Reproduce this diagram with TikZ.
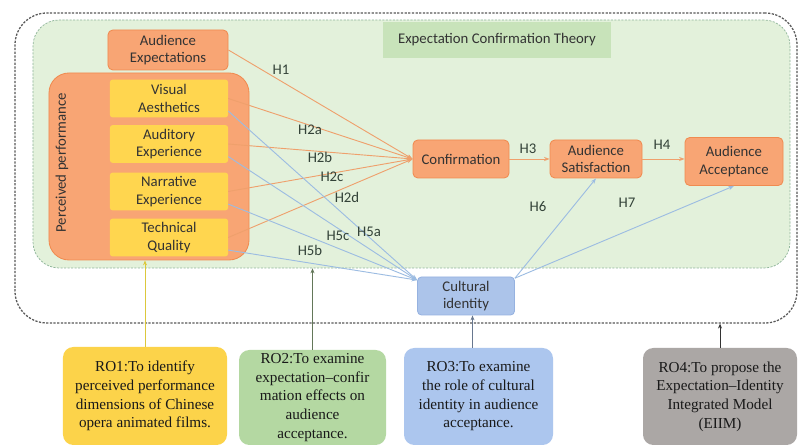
\documentclass[tikz,border=0pt]{standalone}
\usepackage{fontspec}
\setmainfont{Liberation Serif}
\newfontfamily\labelfont{Carlito}
\usetikzlibrary{arrows.meta}

\definecolor{orfill}{HTML}{F8A574}
\definecolor{orline}{HTML}{F08B50}
\definecolor{yel}{HTML}{FFD64F}
\definecolor{ectfill}{HTML}{E3F1DB}
\definecolor{ectline}{HTML}{8FB59A}
\definecolor{ecttag}{HTML}{C8E3BA}
\definecolor{cultfill}{HTML}{ACC4EA}
\definecolor{cultline}{HTML}{96B2E0}
\definecolor{orwire}{HTML}{EFA06C}
\definecolor{bluewire}{HTML}{9CBCE2}
\definecolor{roone}{HTML}{FCD34A}
\definecolor{rotwo}{HTML}{B4D8A2}
\definecolor{rothree}{HTML}{ACC6EE}
\definecolor{rofour}{HTML}{ABA7A5}
\definecolor{hyptext}{HTML}{334238}
\definecolor{roonelink}{HTML}{DCC83C}

\tikzset{
  base/.style={font=\labelfont\fontsize{10.5}{12.5}\selectfont, align=center,
    inner sep=0pt, text=black!80},
  orbox/.style={base, draw=orline, fill=orfill, line width=0.6pt, rounded corners=1.2mm},
  yelbox/.style={base, fill=yel, rounded corners=0.6mm,
    minimum width=29.5mm, minimum height=9.4mm},
  hyp/.style={font=\labelfont\fontsize{10.5}{12}\selectfont, text=hyptext, inner sep=0pt},
  robox/.style={align=center, inner sep=0pt, rounded corners=2.6mm,
    font=\fontsize{10.8}{13.3}\selectfont, text=black!90},
  orwirestyle/.style={draw=orwire, line width=0.65pt, -{Stealth[length=4pt,width=3pt]}},
  bluewirestyle/.style={draw=bluewire, line width=0.65pt, -{Stealth[length=4pt,width=3pt]}},
  uplink/.style={line width=0.7pt, -{Stealth[length=3.5pt,width=2.8pt]}}
}

\begin{document}
\begin{tikzpicture}[x=0.25mm, y=-0.25mm]
\useasboundingbox (0,0) rectangle (800,448);
\fill[white] (0,0) rectangle (800,448);

% outer frame of the model
\node[draw=black!65, line width=0.9pt, dash pattern=on 1.6pt off 1pt,
      rounded corners=8mm, minimum width=195.5mm, minimum height=77.5mm,
      inner sep=0pt] (frame) at (406,168) {};

% Expectation Confirmation Theory region
\node[draw=ectline, fill=ectfill, line width=0.5pt, dash pattern=on 1.5pt off 1pt,
      rounded corners=6.5mm, minimum width=189.25mm, minimum height=62mm,
      inner sep=0pt] (ect) at (411.5,144) {};
\node[base, fill=ecttag, minimum width=57mm, minimum height=9mm] (ecttitle)
      at (497,40) {Expectation Confirmation Theory};

% antecedents
\node[orbox, minimum width=30mm, minimum height=10mm] (aexp) at (168,50)
      {Audience\\Expectations};
\node[orbox, minimum width=50mm, minimum height=46.75mm, rounded corners=5mm] (perf)
      at (149,166.5) {};
\node[base, rotate=90] (perflabel) at (62,163) {Perceived performance};

\node[yelbox] (va) at (169,98.5) {Visual\\Aesthetics};
\node[yelbox] (ae) at (169,144) {Auditory\\Experience};
\node[yelbox] (ne) at (169,191.5) {Narrative\\Experience};
\node[yelbox] (tq) at (169,237.5) {Technical\\Quality};

% outcome chain
\node[orbox, minimum width=24mm, minimum height=9.5mm] (conf) at (461,159) {Confirmation};
\node[orbox, minimum width=23mm, minimum height=9.5mm] (sat) at (596,159)
      {Audience\\Satisfaction};
\node[orbox, minimum width=24.5mm, minimum height=12mm] (acc) at (734,161.5)
      {Audience\\Acceptance};
\node[base, draw=cultline, fill=cultfill, line width=0.6pt, rounded corners=1mm,
      minimum width=24.25mm, minimum height=9.5mm] (cult) at (466,296)
      {Cultural\\identity};

% paths into confirmation
\draw[orwirestyle] (aexp.east) -- (conf.west);
\draw[orwirestyle] (va.east) -- (conf.west);
\draw[orwirestyle] (ae.east) -- (conf.west);
\draw[orwirestyle] (ne.east) -- (conf.west);
\draw[orwirestyle] (tq.east) -- (conf.west);

% paths into cultural identity
\draw[bluewirestyle] (va.-12) -- (cult.162);
\draw[bluewirestyle] (ae.-12) -- (cult.162);
\draw[bluewirestyle] (ne.-12) -- (cult.162);
\draw[bluewirestyle] (tq.-12) -- (cult.162);

% cultural identity to outcomes
\draw[bluewirestyle] (cult.20) -- (sat.south);
\draw[bluewirestyle] (cult.20) -- (acc.south);

% main chain
\draw[orwirestyle] (conf.east) -- (sat.west);
\draw[orwirestyle] (sat.east) -- (sat.east -| acc.west);

% hypothesis labels
\node[hyp] (h1) at (281,70) {H1};
\node[hyp] (h2a) at (310,130) {H2a};
\node[hyp] (h2b) at (320,157) {H2b};
\node[hyp] (h2c) at (332,177) {H2c};
\node[hyp] (h2d) at (347,197) {H2d};
\node[hyp] (h3) at (528,149) {H3};
\node[hyp] (h4) at (662,145) {H4};
\node[hyp] (h5a) at (369,232) {H5a};
\node[hyp] (h5c) at (338,236) {H5c};
\node[hyp] (h5b) at (310,250) {H5b};
\node[hyp] (h6) at (538,207) {H6};
\node[hyp] (h7) at (627,203) {H7};

% research objectives
\node[robox, fill=roone, minimum width=41mm, minimum height=24.5mm] (ro1) at (145,396)
      {RO1:To identify\\perceived performance\\dimensions of Chinese\\opera animated films.};
\node[robox, fill=rotwo, minimum width=36.75mm, minimum height=23.75mm] (ro2) at (312.5,397.5)
      {RO2:To examine\\expectation–confir\\mation effects on\\audience\\acceptance.};
\node[robox, fill=rothree, minimum width=37.25mm, minimum height=24.25mm] (ro3) at (478.5,396.5)
      {RO3:To examine\\the role of cultural\\identity in audience\\acceptance.};
\node[robox, fill=rofour, minimum width=38.5mm, minimum height=24.25mm] (ro4) at (720,396.5)
      {RO4:To propose the\\Expectation–Identity\\Integrated Model\\(EIIM)};

% objective links
\draw[uplink, draw=roonelink] (ro1.north) -- (ro1.north |- perf.south);
\draw[uplink, draw=black!45!rotwo] (ro2.north) -- (ro2.north |- ect.south);
\draw[uplink, draw=black!40!rothree] ([xshift=-1.5mm]ro3.north) -- ([xshift=-1.5mm]ro3.north |- cult.south);
\draw[uplink, draw=black!80] (ro4.north) -- (ro4.north |- frame.south);
\end{tikzpicture}
\end{document}
